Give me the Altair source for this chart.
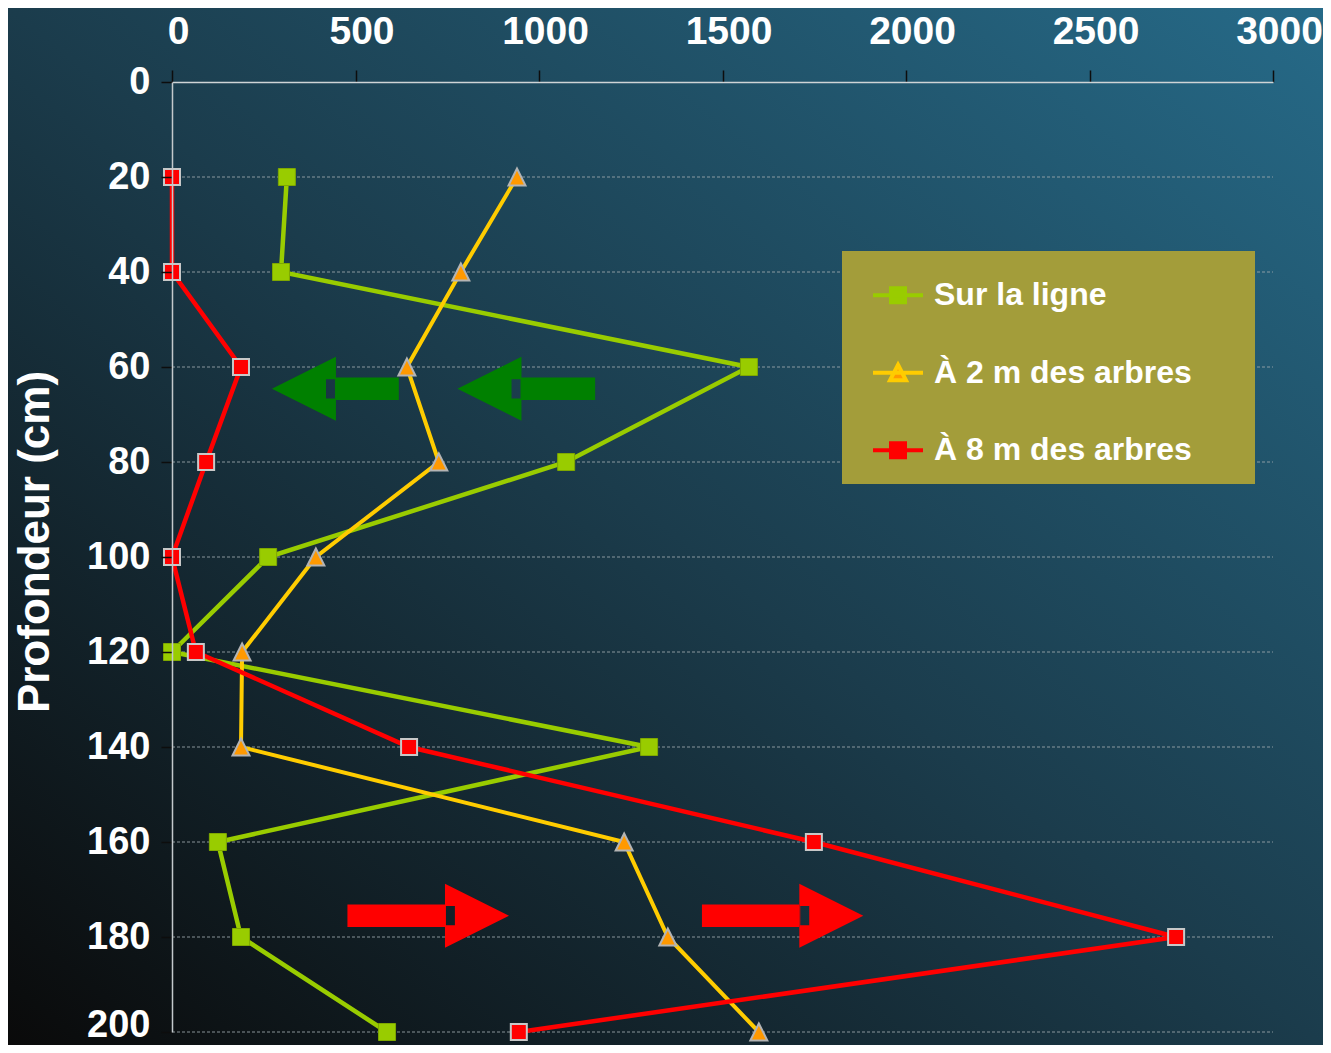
import altair as alt
import pandas as pd

# ---------------- data ----------------
depths = [20, 40, 60, 80, 100, 120, 140, 160, 180, 200]
series_names = ["Sur la ligne", "À 2 m des arbres", "À 8 m des arbres"]
sur_la_ligne = [313, 297, 1572, 1074, 262, 0, 1300, 125, 188, 586]
a_2m = [940, 787, 640, 727, 392, 191, 188, 1232, 1351, 1599]
a_8m = [0, 0, 188, 93, 0, 65, 646, 1749, 2736, 945]

x_ticks = [0, 500, 1000, 1500, 2000, 2500, 3000]
y_ticks = [0, 20, 40, 60, 80, 100, 120, 140, 160, 180, 200]

# decorative arrows (data units)
arrow_kind = ["gauche", "gauche", "droite", "droite"]
arrow_y = [64.6, 64.6, 175.5, 175.5]
arrow_tip = [273, 779, 918, 1884]
arrow_base = [446, 951, 744, 1709]
arrow_tail = [618, 1153, 478, 1444]

# ---------------- tables ----------------
rows = []
for name, vals in zip(series_names, [sur_la_ligne, a_2m, a_8m]):
    for d, v in zip(depths, vals):
        rows.append({"Série": name, "Profondeur": d, "Valeur": v})
df = pd.DataFrame(rows)

arrows = pd.DataFrame({"kind": arrow_kind, "ay": arrow_y, "tip": arrow_tip,
                       "base": arrow_base, "tail": arrow_tail})

# ---------------- layout / style ----------------
W, H = 1101, 950
PAD = {"left": 164, "top": 74, "right": 50, "bottom": 13}
FONT = "Liberation Sans"

xs = alt.Scale(domain=[0, 3000], nice=False, zero=False)
ys = alt.Scale(domain=[0, 200], reverse=True, nice=False, zero=False)

x_axis = alt.Axis(orient="top", title=None, values=x_ticks, grid=False,
                  format="d", labelFont=FONT, labelFontSize=39,
                  labelFontWeight="bold", labelColor="white",
                  labelPadding=19, labelOffset=6, labelFlush=False,
                  tickColor="#0d0d0d", tickSize=12, tickWidth=1.5,
                  domainColor="#cfd4d6", domainWidth=1.5, zindex=1)
y_axis = alt.Axis(orient="left", title="Profondeur (cm)", values=y_ticks,
                  grid=False, format="d", labelFont=FONT, labelFontSize=38,
                  labelFontWeight="bold", labelColor="white", labelPadding=11,
                  labelOffset={"condition": {"test": "datum.value === 200", "value": -6.5},
                               "value": 0.5},
                  tickColor="#0d0d0d", tickSize=11,
                  tickWidth=1.5, domainColor="#c4c9cc", domainWidth=1.5,
                  titleFont=FONT, titleFontSize=44, titleFontWeight="bold",
                  titleColor="white", titleAngle=270, titleX=-124,
                  titleY=459.5, titleBaseline="alphabetic",
                  titleAlign="center", zindex=1)

X = alt.X("Valeur:Q", scale=xs, axis=x_axis)
Y = alt.Y("Profondeur:Q", scale=ys, axis=y_axis)

# background gradient
bg = alt.Chart(pd.DataFrame({"k": [0]})).mark_rect(
    color=alt.LinearGradient(
        gradient="linear",
        stops=[alt.GradientStop(offset=0, color="#0a0a0a"),
               alt.GradientStop(offset=0.5, color="#1b3c4c"),
               alt.GradientStop(offset=1, color="#266a88")],
        x1=0, y1=1, x2=1, y2=0)
).encode(x=alt.value(-PAD["left"]), x2=alt.value(W + PAD["right"]),
         y=alt.value(-PAD["top"]), y2=alt.value(H + PAD["bottom"]))

grid = alt.Chart(pd.DataFrame({"Profondeur": y_ticks[1:]})).mark_rule(
    color="#9ea8ad", strokeWidth=1, strokeDash=[3, 2], opacity=0.85
).encode(y=Y, x=alt.value(0), x2=alt.value(W))

TRI = "M0,-1L1,1L-1,1Z"
styles = {
    "Sur la ligne": dict(line="#99cc00", lw=4.5, shape="square", fill="#99cc00",
                         stroke="#7fa800", sw=1, size=289),
    "À 2 m des arbres": dict(line="#ffcc00", lw=4, shape=TRI, fill="#ff9900",
                             stroke="#b4b4b4", sw=2, size=289),
    "À 8 m des arbres": dict(line="#ff0000", lw=4.5, shape="square", fill="#ff0000",
                             stroke="#c8c8c8", sw=2, size=256),
}

series_layers = []
for name in series_names:
    st = styles[name]
    base = alt.Chart(df).transform_filter(alt.datum["Série"] == name)
    series_layers.append(
        base.mark_line(color=st["line"], strokeWidth=st["lw"]).encode(
            x=X, y=Y, order=alt.Order("Profondeur:Q")))
    series_layers.append(
        base.mark_point(shape=st["shape"], filled=True, fill=st["fill"],
                        stroke=st["stroke"], strokeWidth=st["sw"],
                        size=st["size"], opacity=1).encode(x=X, y=Y))

# arrows
LEFT_HEAD = "M1,-1L-1,0L1,1ZM0.97,-0.3L0.97,0.3L0.69,0.3L0.69,-0.3Z"
RIGHT_HEAD = "M-1,-1L1,0L-1,1ZM-0.97,-0.3L-0.97,0.3L-0.69,0.3L-0.69,-0.3Z"
arrow_layers = []
for kind, col, path in [("gauche", "#008000", LEFT_HEAD), ("droite", "#ff0000", RIGHT_HEAD)]:
    a = alt.Chart(arrows).transform_filter(alt.datum.kind == kind)
    arrow_layers.append(
        a.mark_rule(color=col, strokeWidth=22.5, strokeCap="butt").encode(
            x=alt.X("tail:Q", scale=xs, axis=x_axis), x2="base:Q",
            y=alt.Y("ay:Q", scale=ys, axis=y_axis)))
    arrow_layers.append(
        a.transform_calculate(hx="(datum.tip + datum.base) / 2").mark_point(
            shape=path, filled=True, fill=col, strokeWidth=0, size=4096,
            opacity=1).encode(
            x=alt.X("hx:Q", scale=xs, axis=x_axis),
            y=alt.Y("ay:Q", scale=ys, axis=y_axis)))

# legend (drawn from scales only); an invisible title on the right widens the box
leg_def = alt.Legend(orient="none", legendX=670, legendY=169, title=".",
                     titleOrient="right", titlePadding=42, titleFontSize=10,
                     titleOpacity=0, fillColor="#a39d3a", padding=17.25,
                     symbolSize=2500, symbolStrokeWidth=4, symbolOffset=11.75,
                     labelOffset=9, rowPadding=34.5, labelFont=FONT,
                     labelFontSize=32, labelFontWeight="bold",
                     labelColor="white", labelLimit=1000)
legend_shapes = ["M-1,0H1M-0.28,-0.28H0.28V0.28H-0.28Z",
                 "M-1,0H1M0,-0.32L0.32,0.3H-0.32Z",
                 "M-1,0H1M-0.28,-0.28H0.28V0.28H-0.28Z"]
leg = alt.Chart(df).transform_filter("false").mark_point(filled=True, opacity=1).encode(
    x=X, y=Y,
    fill=alt.Fill("Série:N", scale=alt.Scale(domain=series_names,
                  range=["#99cc00", "#ff9900", "#ff0000"]), legend=leg_def),
    stroke=alt.Stroke("Série:N", scale=alt.Scale(domain=series_names,
                      range=["#99cc00", "#ffcc00", "#ff0000"]), legend=leg_def),
    shape=alt.Shape("Série:N", scale=alt.Scale(domain=series_names,
                    range=legend_shapes), legend=leg_def),
)

chart = alt.layer(bg, grid, *series_layers, *arrow_layers, leg).properties(
    width=W, height=H, padding=PAD,
    autosize=alt.AutoSizeParams(type="none"),
).configure_view(strokeWidth=0)

chart.save("out.html", embed_options={"renderer": "svg", "actions": False})
